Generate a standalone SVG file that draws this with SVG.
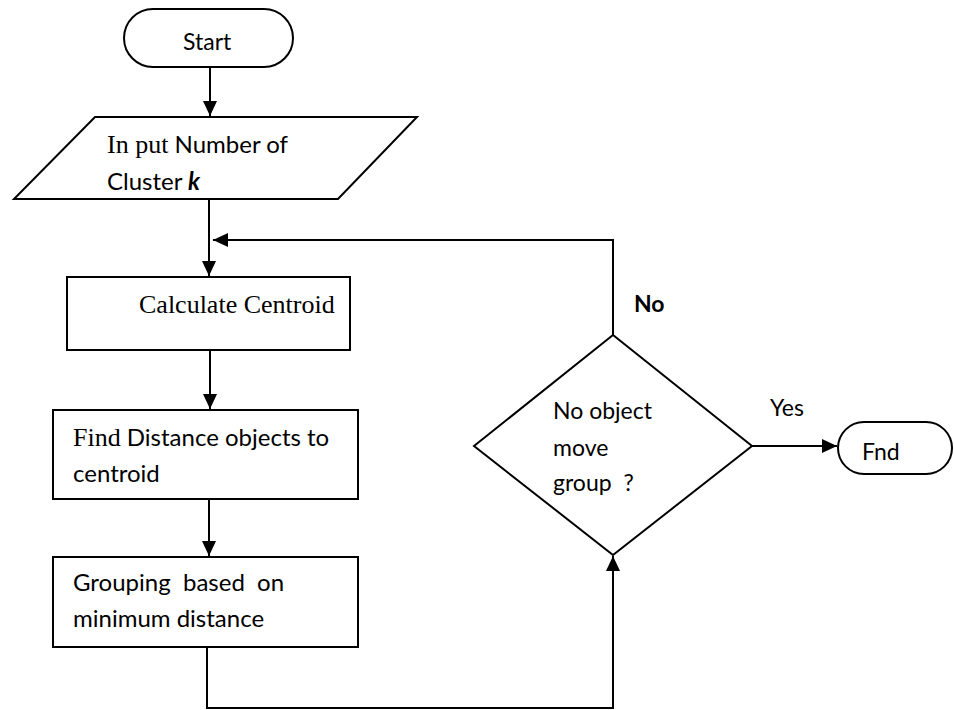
<svg xmlns="http://www.w3.org/2000/svg" width="954" height="710" viewBox="0 0 954 710">
<style>
.s{fill:#fff;stroke:#000;stroke-width:2}
.c{fill:none;stroke:#000;stroke-width:2}
.t{font-family:Lato,"Liberation Sans",sans-serif;font-size:23px;fill:#000}
.b{font-size:24px}
.r{font-family:"Liberation Serif",serif;font-size:26px}
</style>
<defs>
<marker id="ah" markerUnits="userSpaceOnUse" markerWidth="16" markerHeight="14" refX="15" refY="7" orient="auto">
<path d="M0,0 L15,7 L0,14 Z" fill="#000"/>
</marker>
</defs>
<rect width="954" height="710" fill="#fff"/>
<g id="connectors">
<line class="c" x1="210" y1="67" x2="210" y2="116" marker-end="url(#ah)"/>
<line class="c" x1="209" y1="199" x2="209" y2="276" marker-end="url(#ah)"/>
<polyline class="c" points="613,335 613,240 213,240" marker-end="url(#ah)"/>
<line class="c" x1="210" y1="350" x2="210" y2="409" marker-end="url(#ah)"/>
<line class="c" x1="209" y1="499" x2="209" y2="556" marker-end="url(#ah)"/>
<polyline class="c" points="207,647 207,708 613,708 613,556" marker-end="url(#ah)"/>
<line class="c" x1="752" y1="446" x2="837" y2="446" marker-end="url(#ah)"/>
</g>
<g id="start">
<rect class="s" x="124" y="9" width="169" height="58" rx="29"/>
<text class="t" x="183" y="50">Start</text>
</g>
<g id="input">
<polygon class="s" points="95,117 417,117 338,199 14,199"/>
<text class="t b" x="107" y="153"><tspan class="r">In put</tspan> Number of</text>
<text class="t b" x="107" y="190">Cluster <tspan font-weight="bold" font-style="italic">k</tspan></text>
</g>
<g id="calc">
<rect class="s" x="67" y="277" width="283" height="73"/>
<text class="t r" x="139" y="313">Calculate Centroid</text>
</g>
<g id="find">
<rect class="s" x="53" y="410" width="305" height="89"/>
<text class="t b" x="73" y="446"><tspan class="r">Find</tspan> Distance objects to</text>
<text class="t b" x="73" y="482">centroid</text>
</g>
<g id="group">
<rect class="s" x="53" y="557" width="305" height="90"/>
<text class="t b" x="73" y="591" xml:space="preserve">Grouping  based  on</text>
<text class="t b" x="73" y="627">minimum distance</text>
</g>
<g id="decision">
<polygon class="s" points="613,335 752,446 613,555 474,446"/>
<text class="t" x="553" y="419">No object</text>
<text class="t" x="553" y="456">move</text>
<text class="t" x="553" y="491" xml:space="preserve">group  ?</text>
</g>
<g id="labels">
<text class="t" x="634" y="312" font-weight="bold">No</text>
<text class="t" x="770" y="416">Yes</text>
</g>
<g id="end">
<rect class="s" x="838" y="422" width="114" height="52" rx="26"/>
<text class="t" x="862" y="460">Fnd</text>
</g>
</svg>
